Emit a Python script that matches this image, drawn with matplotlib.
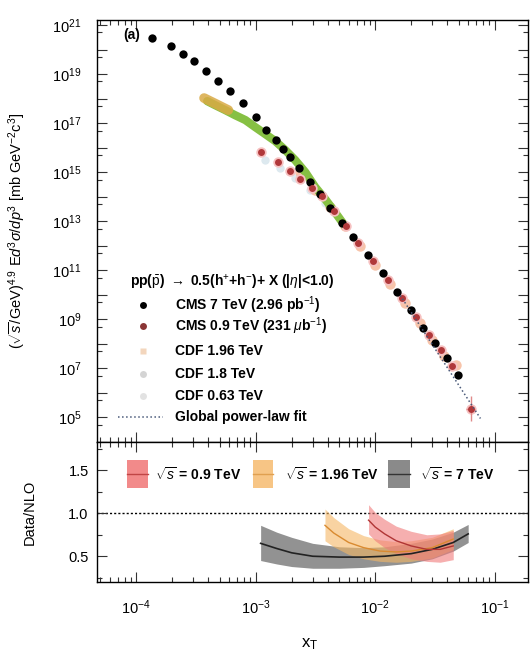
import matplotlib
matplotlib.use("Agg")
import matplotlib.pyplot as plt
from matplotlib.patches import Rectangle
from matplotlib.ticker import LogLocator, FixedLocator, MultipleLocator, NullFormatter

plt.rcParams["font.family"] = ["Liberation Sans", "DejaVu Sans"]
plt.rcParams["mathtext.fontset"] = "custom"
plt.rcParams["mathtext.rm"] = "Liberation Sans"
plt.rcParams["mathtext.it"] = "Liberation Sans:italic"
plt.rcParams["mathtext.bf"] = "Liberation Sans:bold"

# ---- scaled invariant cross sections vs x_T ----
cms7_xt = [1.36e-4, 1.96e-4, 2.47e-4, 3.05e-4, 3.85e-4, 4.85e-4, 6.1e-4, 7.85e-4,
           1.01e-3, 1.22e-3, 1.49e-3, 1.70e-3, 1.95e-3, 2.31e-3, 2.86e-3, 3.47e-3,
           4.2e-3, 5.3e-3, 6.55e-3, 8.7e-3, 1.17e-2, 1.53e-2, 2.0e-2, 2.52e-2,
           3.18e-2, 4.0e-2, 4.95e-2]
cms7_y = [2.95e20, 1.39e20, 6.5e19, 3.4e19, 1.32e19, 5.2e18, 2.0e18, 6.6e17,
          1.76e17, 5.2e16, 2.0e16, 8.7e15, 4.1e15, 1.46e15, 3.9e14, 1.26e14,
          3.4e13, 8.3e12, 2.2e12, 4.1e11, 7.6e10, 1.26e10, 2.33e9, 4.3e8,
          1.05e8, 2.57e7, 5.2e6]

cms09_xt = [1.11e-3, 1.54e-3, 1.95e-3, 2.36e-3, 2.97e-3, 3.6e-3, 4.54e-3, 5.7e-3,
            7.2e-3, 9.6e-3, 1.28e-2, 1.68e-2, 2.2e-2, 2.83e-2, 3.56e-2, 4.4e-2, 6.3e-2]
cms09_y = [6.6e15, 2.6e15, 1.1e15, 5.2e14, 2.2e14, 1.05e14, 2.6e13, 6.3e12,
           1.26e12, 2.3e11, 3.9e10, 7.2e9, 1.2e9, 2.2e8, 5.4e7, 1.2e7, 2.3e5]
cms09_last_err = ([1.6e5], [5.5e5])

cdf196_low_xt = [3.7e-4, 4.16e-4, 4.67e-4, 5.25e-4, 5.9e-4]
cdf196_low_y = [1.05e18, 7.9e17, 6.0e17, 4.5e17, 3.4e17]
cdf196_xt = [2.36e-3, 3.15e-3, 4.2e-3, 5.6e-3, 7.5e-3, 1.0e-2, 1.34e-2, 1.78e-2,
             2.38e-2, 3.0e-2, 3.78e-2, 4.77e-2]
cdf196_y = [1.0e15, 1.85e14, 3.7e13, 6.3e12, 9.5e11, 1.6e11, 2.7e10, 4.5e9,
            6.9e8, 1.38e8, 3.1e7, 1.32e7]

cdf18_xt = [3.93e-4, 4.58e-4, 5.56e-4, 6.73e-4, 8.2e-4, 9.9e-4, 1.2e-3, 1.46e-3,
            1.77e-3, 2.14e-3, 2.6e-3, 3.15e-3, 3.82e-3, 4.62e-3, 5.6e-3]
cdf18_y = [7.9e17, 5.4e17, 3.4e17, 2.1e17, 1.33e17, 6.9e16, 3.6e16, 1.84e16,
           7.9e15, 3.1e15, 1.0e15, 2.45e14, 7.9e13, 2.3e13, 6.3e12]

cdf063_xt = [1.2e-3, 1.6e-3, 2.14e-3, 2.86e-3, 3.82e-3]
cdf063_y = [3.1e15, 1.45e15, 5.7e14, 1.85e14, 5.4e13]

fit_xt = [1.62e-2, 7.6e-2]
fit_y = [9.5e9, 9.1e4]

# ---- Data / NLO ratio bands ----
r7_xt = [1.1e-3, 1.5e-3, 2e-3, 3e-3, 5e-3, 8e-3, 1.2e-2, 2e-2, 3e-2, 4.5e-2, 6e-2]
r7_mid = [0.65, 0.59, 0.54, 0.50, 0.49, 0.49, 0.50, 0.53, 0.58, 0.66, 0.76]
r7_hi = [0.86, 0.78, 0.72, 0.65, 0.61, 0.60, 0.61, 0.65, 0.70, 0.78, 0.87]
r7_lo = [0.45, 0.41, 0.38, 0.36, 0.36, 0.37, 0.39, 0.42, 0.47, 0.56, 0.66]

r196_xt = [3.8e-3, 4.5e-3, 6e-3, 8e-3, 1.1e-2, 1.5e-2, 2e-2, 3e-2, 4.5e-2]
r196_mid = [0.86, 0.77, 0.66, 0.60, 0.56, 0.55, 0.56, 0.60, 0.70]
r196_hi = [1.05, 0.95, 0.82, 0.74, 0.69, 0.67, 0.68, 0.72, 0.82]
r196_lo = [0.68, 0.61, 0.52, 0.47, 0.44, 0.43, 0.44, 0.48, 0.58]

r09_xt = [8.8e-3, 1.0e-2, 1.2e-2, 1.5e-2, 2e-2, 2.7e-2, 3.5e-2, 4.5e-2]
r09_mid = [0.92, 0.84, 0.76, 0.68, 0.62, 0.58, 0.58, 0.62]
r09_hi = [1.10, 1.01, 0.93, 0.85, 0.79, 0.75, 0.76, 0.80]
r09_lo = [0.76, 0.68, 0.60, 0.53, 0.47, 0.44, 0.43, 0.46]

W, H = 531, 652
fig = plt.figure(figsize=(W / 100, H / 100), dpi=100)
ax = fig.add_axes([97 / W, 1 - 442 / H, 431 / W, 422 / H])
axr = fig.add_axes([97 / W, 1 - 582 / H, 431 / W, 140 / H], sharex=ax)

# upper panel
ax.plot(cdf063_xt, cdf063_y, "o", ms=6, color="#dde9ef", mec="none", zorder=1)
ax.plot(cdf196_xt, cdf196_y, "o", ms=7.5, color="#f5b08e", mec="none", alpha=0.75, zorder=1)
ax.plot(cdf18_xt, cdf18_y, "-", lw=6, color="#86c043", solid_capstyle="round", zorder=2)
ax.plot(cdf196_low_xt, cdf196_low_y, "-", lw=7, color="#d9aa45",
        solid_capstyle="round", alpha=0.85, zorder=3)
ax.plot(cms09_xt, cms09_y, "o", ms=7.5, color="#f6c1c1", mec="none", zorder=3)
ax.errorbar(cms09_xt[-1:], cms09_y[-1:], yerr=cms09_last_err, xerr=[[0.006], [0.006]],
            fmt="none", ecolor="#e08a8a", elinewidth=1, zorder=3)
ax.plot(cms7_xt, cms7_y, "o", ms=6, color="black", mec="none", zorder=4)
ax.plot(cms09_xt, cms09_y, "o", ms=5, color="#b0383a", mec="none", zorder=5)
ax.plot(fit_xt, fit_y, ":", lw=1.1, color="#4a5a7a", zorder=6)

ax.set_xscale("log")
ax.set_yscale("log")
ax.set_xlim(4.7e-5, 0.19)
ax.set_ylim(1e4, 1.6e21)

ax.yaxis.set_major_locator(FixedLocator([10.0 ** k for k in range(4, 22)]))
ax.yaxis.set_minor_locator(FixedLocator([5 * 10.0 ** k for k in range(4, 21)]))
ax.set_yticklabels(["" if k % 2 == 0 else r"$10^{%d}$" % k for k in range(4, 22)])
ax.yaxis.set_minor_formatter(NullFormatter())
ax.tick_params(axis="x", labelbottom=False)

ax.set_ylabel(r"$(\sqrt{s}$/GeV$)^{4.9}$ E$d^{3}\sigma/dp^{3}$ [mb GeV$^{-2}$c$^{3}$]",
              fontsize=10.5)
ax.yaxis.set_label_coords(-0.16, 0.5)
ax.text(0.06, 0.964, "(a)", transform=ax.transAxes, fontsize=10, va="center",
        fontweight="bold")

# legend of the upper panel
ax.text(0.077, 0.379, r"pp($\bar{\rm p}$) $\rightarrow$ 0.5(h$^{+}$+h$^{-}$)+ X (|$\eta$|<1.0)",
        transform=ax.transAxes, fontsize=10, va="center", fontweight="bold")
leg_rows = [
    ("CMS 7 TeV (2.96 pb$^{-1}$)", "o", "black"),
    (r"CMS 0.9 TeV (231 $\mu$b$^{-1}$)", "o", "#8a3535"),
    ("CDF 1.96 TeV", "s", "#f3d6bd"),
    ("CDF 1.8 TeV", "o", "#d4d4d4"),
    ("CDF 0.63 TeV", "o", "#e2e2e2"),
]
row_y = [0.325, 0.275, 0.216, 0.161, 0.109]
for (label, mk, col), yy in zip(leg_rows, row_y):
    ax.plot([0.107], [yy], mk, ms=5, color=col, mec="none", transform=ax.transAxes,
            clip_on=False)
    ax.text(0.181, yy, label, transform=ax.transAxes, fontsize=10, va="center",
            fontweight="bold")
ax.plot([0.049, 0.153], [0.059, 0.059], ":", lw=1.1, color="#4a5a7a",
        transform=ax.transAxes)
ax.text(0.181, 0.059, "Global power-law fit", transform=ax.transAxes, fontsize=10,
        va="center", fontweight="bold")

# lower panel: Data/NLO
axr.fill_between(r7_xt, r7_lo, r7_hi, color="#7f7f7f", alpha=0.85, lw=0, zorder=1)
axr.fill_between(r196_xt, r196_lo, r196_hi, color="#f5b764", alpha=0.6, lw=0, zorder=2)
axr.fill_between(r09_xt, r09_lo, r09_hi, color="#f07a7a", alpha=0.6, lw=0, zorder=3)
axr.plot(r7_xt, r7_mid, "-", lw=1.2, color="#222222", zorder=4)
axr.plot(r196_xt, r196_mid, "-", lw=1.0, color="#d98a30", zorder=4)
axr.plot(r09_xt, r09_mid, "-", lw=1.0, color="#b03535", zorder=4)
axr.axhline(1.0, color="black", lw=1.0, ls=(0, (1.5, 1.5)), zorder=0)

axr.set_ylim(0.2, 1.83)
axr.yaxis.set_major_locator(MultipleLocator(0.5))
axr.yaxis.set_minor_locator(MultipleLocator(0.25))
axr.set_yticks([0.5, 1.0, 1.5])
axr.set_yticklabels(["0.5", "1.0", "1.5"])
axr.set_ylabel("Data/NLO", fontsize=10.5)
axr.yaxis.set_label_coords(-0.14, 0.5)
axr.set_xlabel(r"x$_{\rm T}$", fontsize=12)
axr.xaxis.set_label_coords(0.494, -0.39)

boxes = [
    (0.070, 0.048, "#f28a8a", "#c04545", r"$\sqrt{s}$ = 0.9 TeV", 0.135),
    (0.362, 0.046, "#f7c585", "#e0a050", r"$\sqrt{s}$ = 1.96 TeV", 0.436),
    (0.675, 0.051, "#8a8a8a", "#333333", r"$\sqrt{s}$ = 7 TeV", 0.749),
]
for x0, w, fc, lc, label, tx in boxes:
    axr.add_patch(Rectangle((x0, 0.671), w, 0.2, transform=axr.transAxes,
                            facecolor=fc, edgecolor="none", clip_on=False))
    axr.plot([x0, x0 + w], [0.771, 0.771], "-", lw=1.0, color=lc,
             transform=axr.transAxes)
    axr.text(tx, 0.771, label, transform=axr.transAxes, fontsize=10, va="center",
             fontweight="bold")

for a in (ax, axr):
    a.xaxis.set_major_locator(LogLocator(base=10, numticks=10))
    a.xaxis.set_minor_locator(LogLocator(base=10, subs=range(2, 10), numticks=20))
    a.xaxis.set_minor_formatter(NullFormatter())
    a.tick_params(which="both", direction="in", top=True, right=True, labelsize=10.5,
                  width=0.8, color="#333333")
    a.tick_params(which="major", length=7)
    a.tick_params(which="minor", length=3.5)
    for sp in a.spines.values():
        sp.set_linewidth(1.0)
ax.tick_params(axis="y", which="both", pad=11)
axr.tick_params(axis="y", pad=6)
axr.tick_params(axis="x", pad=12)

fig.savefig("out.png", dpi=100)
